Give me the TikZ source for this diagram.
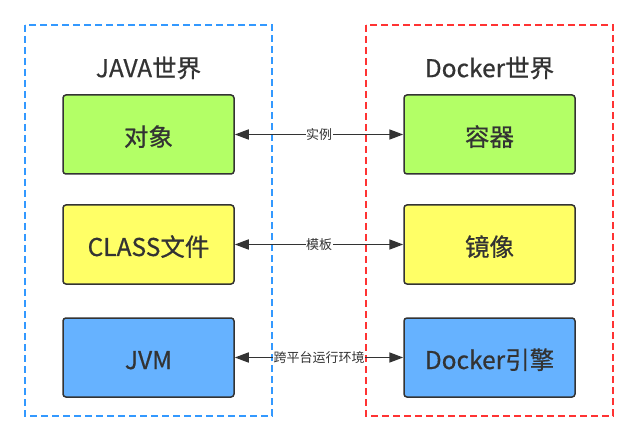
\documentclass[tikz,border=0pt]{standalone}
\usepackage{fontspec}
\setmainfont{Noto Sans CJK SC}
\newfontfamily\boxfont[FakeBold=0.6]{Noto Sans CJK SC}
\usepackage{xcolor}
\usepackage{tikz}
\usetikzlibrary{arrows.meta,positioning}

\definecolor{ink}{HTML}{333333}
\definecolor{javablue}{HTML}{3399FF}
\definecolor{dockerred}{HTML}{FF3333}
\definecolor{boxgreen}{HTML}{B3FF66}
\definecolor{boxyellow}{HTML}{FFFF66}
\definecolor{boxblue}{HTML}{66B2FF}

\tikzset{
    worldbox/.style={line width=1.5pt, dash pattern=on 7pt off 4pt},
    thing/.style={draw=ink, line width=1.5pt, rounded corners=3pt, text=ink,
        minimum width=171pt, minimum height=79pt, inner sep=0pt,
        text height=26pt, text depth=3pt,
        font=\boxfont\fontsize{24.5}{28}\selectfont},
    title/.style={text=ink, font=\boxfont\fontsize{24.5}{28}\selectfont},
    link/.style={draw=ink, line width=1.7pt, {Triangle[length=14pt,width=10pt]}-{Triangle[length=14pt,width=10pt]}},
    linklabel/.style={fill=white, text=ink, inner sep=0.5pt, font=\fontsize{13}{15}\selectfont}
}

\begin{document}
\begin{tikzpicture}[x=1pt,y=-1pt]
    \useasboundingbox[fill=white] (0,0) rectangle (638,441);

    % Worlds
    \draw[worldbox, javablue] (25,25) rectangle (272,416);
    \draw[worldbox, dockerred] (366,25) rectangle (613,416);
    \node[title] (javatitle) at (148.5,68) {JAVA世界};
    \node[title] (dockertitle) at (489.5,68) {Docker世界};

    % Java side
    \node[thing, fill=boxgreen] (object) at (148.5,134.5) {对象};
    \node[thing, fill=boxyellow] (classfile) at (148.5,244.5) {CLASS文件};
    \node[thing, fill=boxblue] (jvm) at (148.5,357.5) {JVM};

    % Docker side
    \node[thing, fill=boxgreen] (container) at (489.5,134.5) {容器};
    \node[thing, fill=boxyellow] (image) at (489.5,244.5) {镜像};
    \node[thing, fill=boxblue] (engine) at (489.5,357.5) {Docker引擎};

    % Links
    \draw[link] (object) -- node[linklabel] {实例} (container);
    \draw[link] (classfile) -- node[linklabel] {模板} (image);
    \draw[link] (jvm) -- node[linklabel] {跨平台运行环境} (engine);
\end{tikzpicture}
\end{document}
